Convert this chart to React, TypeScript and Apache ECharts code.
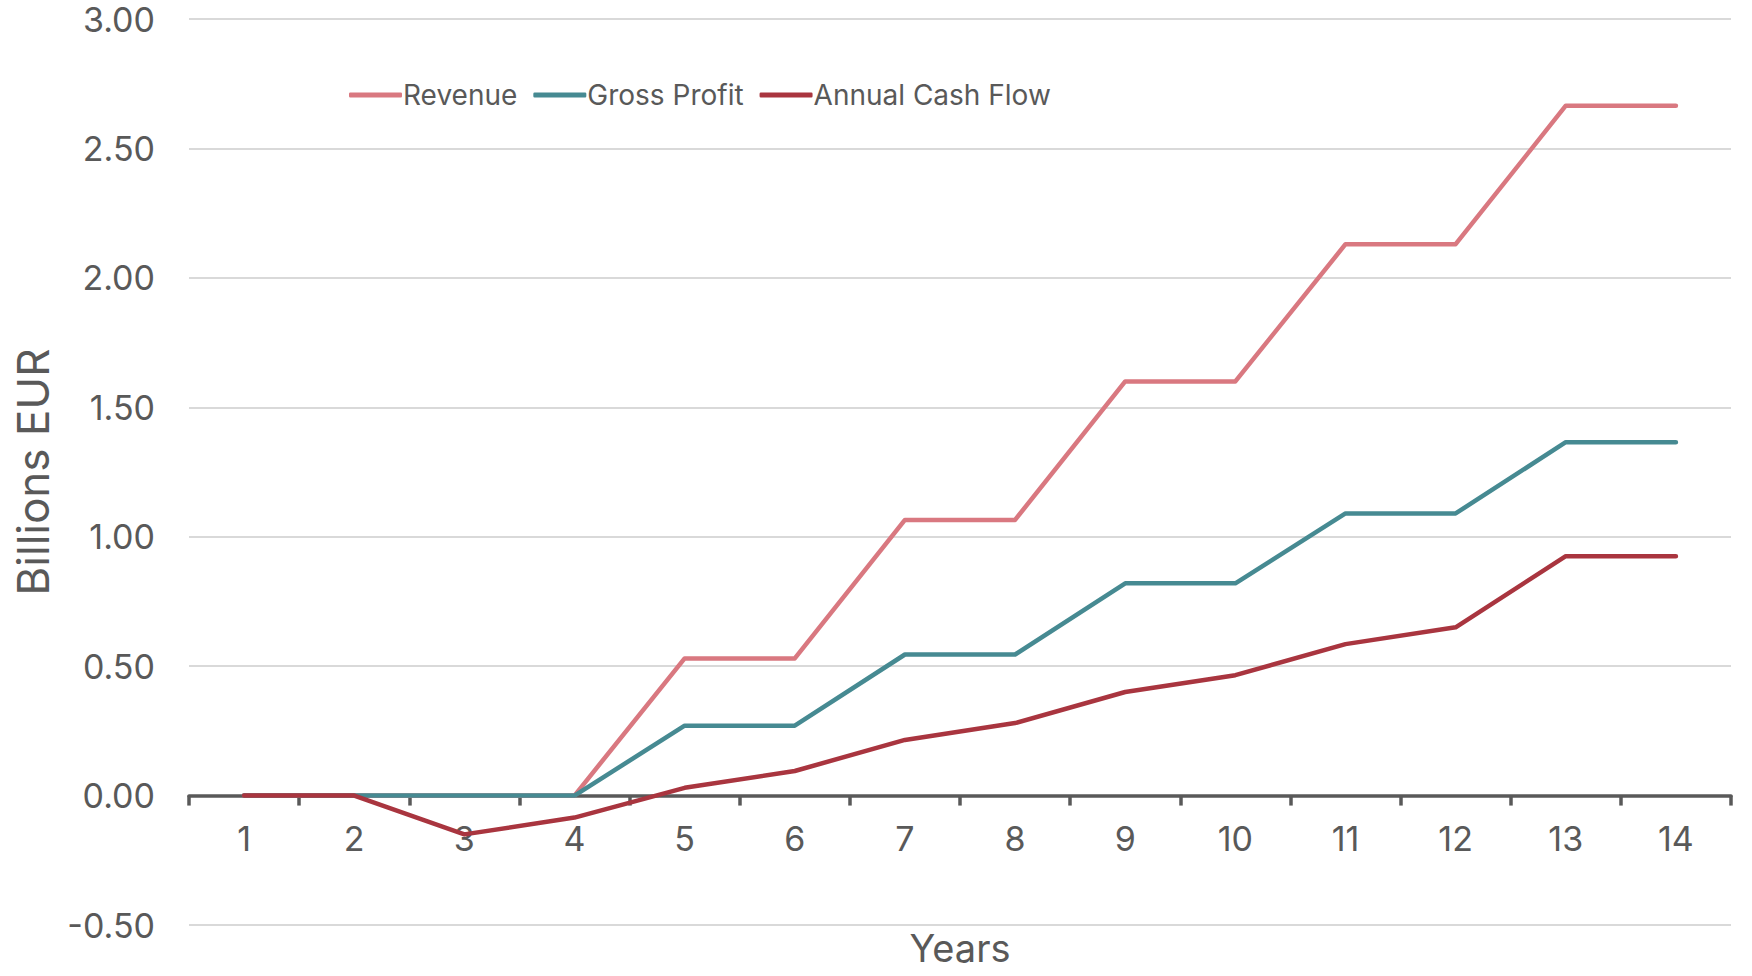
import React, { useEffect, useRef } from "react";
import * as echarts from "echarts";

const years = ["1", "2", "3", "4", "5", "6", "7", "8", "9", "10", "11", "12", "13", "14"];
const revenue = [0, 0, 0, 0, 0.53, 0.53, 1.065, 1.065, 1.6, 1.6, 2.13, 2.13, 2.665, 2.665];
const grossProfit = [0, 0, 0, 0, 0.27, 0.27, 0.545, 0.545, 0.82, 0.82, 1.09, 1.09, 1.365, 1.365];
const cashFlow = [0, 0, -0.15, -0.085, 0.03, 0.095, 0.215, 0.28, 0.4, 0.465, 0.585, 0.65, 0.925, 0.925];

const FONT = "Inter";
const TEXT = "#595959";
const Y_MIN = -0.5;
const Y_MAX = 3;

export default function App() {
  const ref = useRef<HTMLDivElement>(null);
  useEffect(() => {
    document.body.style.margin = "0";
    const chart = echarts.init(ref.current!, null, { renderer: "svg" });
    const gridTop = 19;
    const gridBottom = 51;
    const plotH = 976 - gridTop - gridBottom;
    const zeroOffset = (plotH * (0 - Y_MIN)) / (Y_MAX - Y_MIN);
    const line = (name: string, data: number[], color: string) => ({
      name,
      type: "line",
      data,
      symbol: "none",
      lineStyle: { color, width: 4.5, cap: "round", join: "round" },
      itemStyle: { color },
    });
    chart.setOption({
      animation: false,
      backgroundColor: "#ffffff",
      textStyle: { fontFamily: FONT, color: TEXT },
      grid: { left: 189, right: 21, top: gridTop, bottom: gridBottom, containLabel: false, outerBoundsMode: "none" },
      legend: {
        left: 349,
        top: 81,
        padding: 0,
        icon: "roundRect",
        itemWidth: 53,
        itemHeight: 5,
        itemGap: 16,
        textStyle: { fontFamily: FONT, fontSize: 28, color: TEXT, padding: [0, 0, 0, -4] },
        data: ["Revenue", "Gross Profit", "Annual Cash Flow"],
      },
      xAxis: {
        type: "category",
        data: years,
        boundaryGap: true,
        position: "bottom",
        offset: -zeroOffset,
        name: "Years",
        nameLocation: "middle",
        nameGap: 133,
        nameTextStyle: { fontFamily: FONT, fontSize: 38, lineHeight: 38, color: TEXT },
        axisLine: { onZero: false, lineStyle: { color: TEXT, width: 3.5 } },
        axisTick: { show: true, length: 10, lineStyle: { color: TEXT, width: 3.5 } },
        axisLabel: { fontFamily: FONT, fontSize: 34, color: TEXT, margin: 26 },
        splitLine: { show: false },
      },
      yAxis: {
        type: "value",
        min: Y_MIN,
        max: Y_MAX,
        interval: 0.5,
        name: "Billions EUR",
        nameLocation: "middle",
        nameGap: 134,
        nameTextStyle: { fontFamily: FONT, fontSize: 44, color: TEXT },
        axisLine: { show: false },
        axisTick: { show: false },
        axisLabel: {
          fontFamily: FONT,
          fontSize: 34,
          color: TEXT,
          margin: 34,
          formatter: (v: number) => v.toFixed(2),
        },
        splitLine: { show: true, lineStyle: { color: "#d9d9d9", width: 2 } },
      },
      series: [
        line("Revenue", revenue, "#d97880"),
        line("Gross Profit", grossProfit, "#468a92"),
        line("Annual Cash Flow", cashFlow, "#a9353f"),
      ],
    });
    return () => chart.dispose();
  }, []);
  return <div ref={ref} style={{ width: 1752, height: 976 }} />;
}
